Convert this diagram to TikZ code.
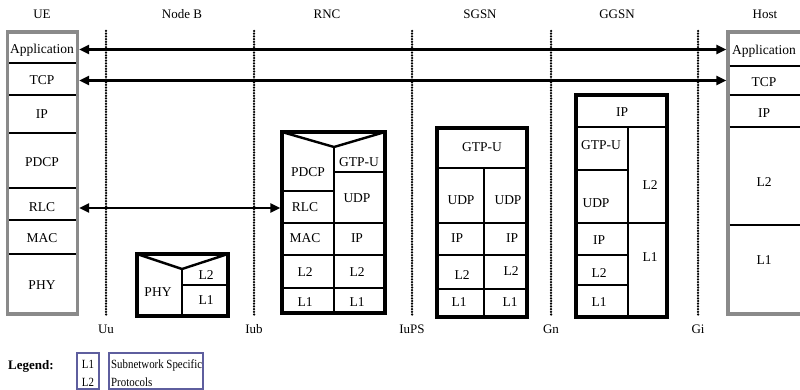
\documentclass[tikz,border=0pt]{standalone}
\usepackage{fontspec}
\setmainfont{Liberation Serif}
\usetikzlibrary{arrows.meta}
\definecolor{legblue}{HTML}{5E5E9E}
\definecolor{grayb}{HTML}{8A8A8A}
\newcommand{\narrowtxt}[1]{\scalebox{0.87}[1]{#1}}
\begin{document}
\begin{tikzpicture}[x=1pt,y=-1pt,
  lbl/.style={font=\fontsize{13.5}{15}\selectfont, inner sep=0pt, anchor=base, yshift=-4.6pt},
  toplbl/.style={font=\fontsize{13}{15}\selectfont, inner sep=0pt, anchor=base, yshift=-4.5pt},
  leg/.style={font=\fontsize{12.5}{14}\selectfont, inner sep=0pt, anchor=base, yshift=-4.2pt},
  endbox/.style={draw=grayb, line width=3.2pt, minimum width=#1, inner sep=0pt},
  netbox/.style={draw=black, line width=3.4pt, inner sep=0pt},
  divider/.style={line width=2.4pt},
  thindiv/.style={line width=2pt},
  dotline/.style={line width=2.5pt, dash pattern=on 0pt off 2.7pt, line cap=round},
  biarr/.style={line width=2.4pt, {Triangle[length=10pt,width=9pt]}-{Triangle[length=10pt,width=9pt]}},
  legbox/.style={draw=legblue, line width=1.3pt}
]
\useasboundingbox (0,0) rectangle (800,390);

% top labels
\node[toplbl] (lue) at (42,14) {UE};
\node[toplbl] (lnb) at (182,14) {Node B};
\node[toplbl] (lrnc) at (327,14) {RNC};
\node[toplbl] (lsgsn) at (480,14) {SGSN};
\node[toplbl] (lggsn) at (617,14) {GGSN};
\node[toplbl] (lhost) at (765,14) {Host};

% interface dotted lines
\foreach \nm/\x/\t in {uu/106/Uu, iub/254/Iub, iups/412/IuPS, gn/551/Gn, gi/698/Gi}{
  \draw[dotline] (\x,31) -- (\x,315);
  \node[toplbl] (\nm) at (\x,329) {\t};
}

% UE
\node[endbox=70pt, minimum height=282pt] (ue) at (42.5,173) {};
\foreach \y in {63,95,133,188,220,254} \draw[thindiv] (9,\y) -- (76,\y);
\node[lbl] (ueapp) at (42,49) {Application};
\node[lbl] (uetcp) at (42,80) {TCP};
\node[lbl] (ueip) at (42,114) {IP};
\node[lbl] (uepdcp) at (42,162) {PDCP};
\node[lbl] (uerlc) at (42,207) {RLC};
\node[lbl] (uemac) at (42,238) {MAC};
\node[lbl] (uephy) at (42,285) {PHY};

% Host
\node[endbox=75pt, minimum height=282pt] (host) at (765.5,173) {};
\foreach \y in {66,95,127,225} \draw[thindiv] (729.5,\y) -- (800,\y);
\node[lbl] (happ) at (764,50) {Application};
\node[lbl] (htcp) at (764,82) {TCP};
\node[lbl] (hip) at (764,113) {IP};
\node[lbl] (hl2) at (764,182) {L2};
\node[lbl] (hl1) at (764,260) {L1};

% Node B
\node[netbox, minimum width=91pt, minimum height=62pt] (nb) at (182.5,285) {};
\draw[divider, line join=miter] (137,254) -- (182,269) -- (228,254);
\draw[divider] (182,269) -- (182,316);
\draw[divider] (182,285) -- (228,285);
\node[lbl] at (158,292) {PHY};
\node[lbl] at (206,275) {L2};
\node[lbl] at (206,300) {L1};

% RNC
\node[netbox, minimum width=103pt, minimum height=181pt] (rnc) at (333.5,222.5) {};
\draw[divider, line join=miter] (282,132) -- (334,147) -- (385,132);
\draw[divider] (334,147) -- (334,313);
\draw[divider] (282,191) -- (334,191);
\draw[divider] (334,172) -- (385,172);
\foreach \y in {223,255,288} \draw[divider] (282,\y) -- (385,\y);
\node[lbl] at (308,172) {PDCP};
\node[lbl] at (359,162) {GTP-U};
\node[lbl] (rncrlc) at (305,207) {RLC};
\node[lbl] at (357,198) {UDP};
\node[lbl] at (305,238) {MAC};
\node[lbl] at (357,238) {IP};
\node[lbl] at (305,272) {L2};
\node[lbl] at (357,272) {L2};
\node[lbl] at (305,302) {L1};
\node[lbl] at (357,302) {L1};

% SGSN
\node[netbox, minimum width=90pt, minimum height=189pt] (sgsn) at (482,222.5) {};
\draw[divider] (437,168) -- (527,168);
\draw[divider] (484,168) -- (484,317);
\foreach \y in {223,255,289} \draw[divider] (437,\y) -- (527,\y);
\node[lbl] at (482,147) {GTP-U};
\node[lbl] at (461,200) {UDP};
\node[lbl] at (508,200) {UDP};
\node[lbl] at (457,238) {IP};
\node[lbl] at (512,238) {IP};
\node[lbl] at (462,275) {L2};
\node[lbl] at (511,271) {L2};
\node[lbl] at (459,302) {L1};
\node[lbl] at (510,302) {L1};

% GGSN
\node[netbox, minimum width=91pt, minimum height=222pt] (ggsn) at (621.5,206) {};
\draw[divider] (576,127) -- (667,127);
\draw[divider] (628,127) -- (628,317);
\foreach \y in {170,223,255,285} \draw[divider] (576,\y) -- (628,\y);
\draw[divider] (628,223) -- (667,223);
\node[lbl] at (622,112) {IP};
\node[lbl] at (601,145) {GTP-U};
\node[lbl] at (596,203) {UDP};
\node[lbl] at (599,240) {IP};
\node[lbl] at (599,273) {L2};
\node[lbl] at (599,302) {L1};
\node[lbl] at (650,185) {L2};
\node[lbl] at (650,257) {L1};

% arrows
\coordinate (yapp) at (0,49.5);
\coordinate (ytcp) at (0,80.5);
\coordinate (yrlc) at (0,208);
\draw[biarr] (ue.east |- yapp) -- (host.west |- yapp);
\draw[biarr] (ue.east |- ytcp) -- (host.west |- ytcp);
\draw[biarr] (ue.east |- yrlc) -- (rnc.west |- yrlc);

% legend
\node[font=\fontsize{13}{15}\selectfont\bfseries, inner sep=0pt, anchor=base, yshift=-4.4pt] (legend) at (31,365) {Legend:};
\draw[legbox] (77,353) rectangle (99,389);
\draw[legbox] (109,353) rectangle (203,389);
\node[leg] (legl1) at (88,364) {\narrowtxt{L1}};
\node[leg] (legl2) at (88,382) {\narrowtxt{L2}};
\node[leg, anchor=base west] (legs) at (111,364) {\narrowtxt{Subnetwork Specific}};
\node[leg, anchor=base west] (legp) at (111,382) {\narrowtxt{Protocols}};
\end{tikzpicture}
\end{document}
